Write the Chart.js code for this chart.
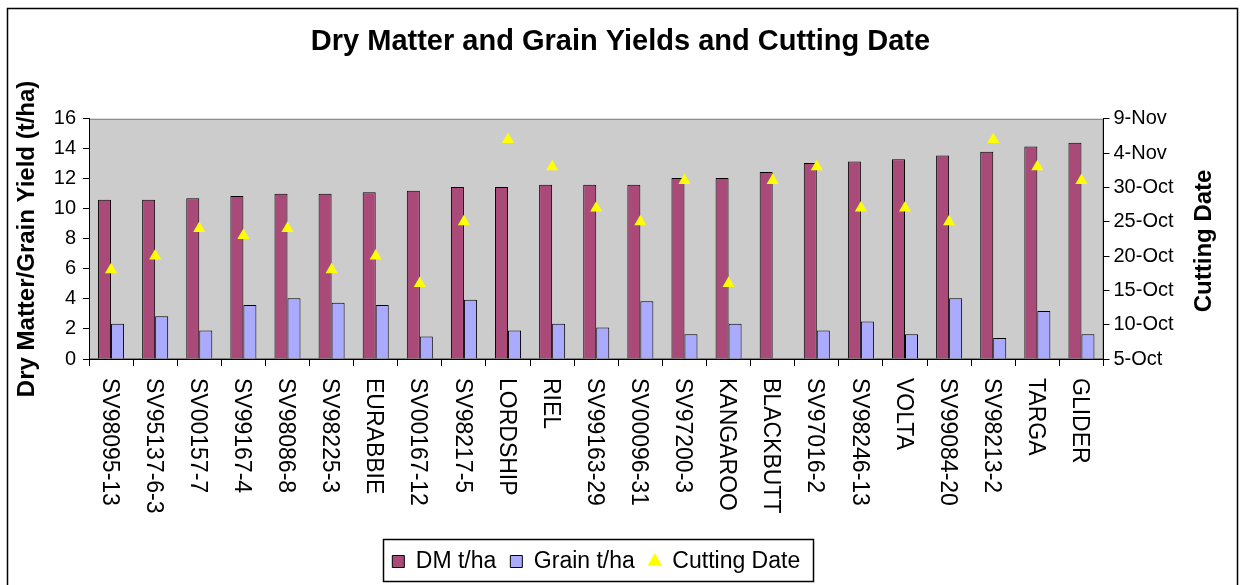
<!DOCTYPE html>
<html>
<head>
<meta charset="utf-8">
<script src="https://cdn.jsdelivr.net/npm/chart.js@4.4.1/dist/chart.umd.min.js"></script>
<style>
  html, body { margin: 0; padding: 0; background: #fff; }
  #wrap { width: 1241px; height: 585px; }
</style>
</head>
<body>
<div id="wrap"><canvas id="chart" width="1241" height="585"></canvas></div>
<script>
const FONT = '"Liberation Sans", Arial, sans-serif';

const chartTitle = 'Dry Matter and Grain Yields and Cutting Date';
const leftAxisTitle = 'Dry Matter/Grain Yield (t/ha)';
const rightAxisTitle = 'Cutting Date';

const varieties = ['SV98095-13', 'SV95137-6-3', 'SV00157-7', 'SV99167-4', 'SV98086-8', 'SV98225-3',
  'EURABBIE', 'SV00167-12', 'SV98217-5', 'LORDSHIP', 'RIEL', 'SV99163-29', 'SV00096-31', 'SV97200-3',
  'KANGAROO', 'BLACKBUTT', 'SV97016-2', 'SV98246-13', 'VOLTA', 'SV99084-20', 'SV98213-2', 'TARGA', 'GLIDER'];

const dmYield = [10.6, 10.6, 10.7, 10.85, 11.0, 11.0, 11.1, 11.2, 11.45, 11.45, 11.6, 11.6,
  11.6, 12.05, 12.05, 12.45, 13.05, 13.15, 13.3, 13.55, 13.8, 14.15, 14.4];

const grainYield = [2.35, 2.85, 1.9, 3.6, 4.05, 3.75, 3.6, 1.5, 3.95, 1.9, 2.35, 2.1,
  3.85, 1.65, 2.35, null, 1.9, 2.5, 1.65, 4.05, 1.4, 3.2, 1.65];

const cuttingDates = ['18-Oct', '20-Oct', '24-Oct', '23-Oct', '24-Oct', '18-Oct', '20-Oct', '16-Oct',
  '25-Oct', '6-Nov', '2-Nov', '27-Oct', '25-Oct', '31-Oct', '16-Oct', '31-Oct', '2-Nov', '27-Oct',
  '27-Oct', '25-Oct', '6-Nov', '2-Nov', '31-Oct'];

const dmTicks = [0, 2, 4, 6, 8, 10, 12, 14, 16];
const dateTicks = ['5-Oct', '10-Oct', '15-Oct', '20-Oct', '25-Oct', '30-Oct', '4-Nov', '9-Nov'];

// days counted from 5-Oct, so the right axis is a plain linear scale
function daysFromStart(s) {
  const parts = s.split('-');
  const d = parseInt(parts[0], 10);
  return parts[1] === 'Oct' ? d - 5 : d + 26;
}

const LEGEND_PAD = 14;

const decor = {
  id: 'decor',
  beforeDraw(chart) {
    const c = chart.ctx, a = chart.chartArea;
    c.save();
    c.fillStyle = '#fff';
    c.fillRect(0, 0, chart.width, chart.height);
    c.fillStyle = '#CCCCCC';
    c.fillRect(a.left, a.top, a.right - a.left, a.bottom - a.top);
    c.strokeStyle = '#808080';
    c.lineWidth = 1;
    c.strokeRect(a.left + 0.5, a.top + 0.5, a.right - a.left - 1, a.bottom - a.top - 1);
    c.restore();
  },
  afterDraw(chart) {
    const c = chart.ctx, a = chart.chartArea, xs = chart.scales.x;
    c.save();
    c.fillStyle = '#000';

    // category labels, reading top to bottom
    c.font = '23px ' + FONT;
    c.textAlign = 'left';
    c.textBaseline = 'middle';
    varieties.forEach(function(v, i) {
      c.save();
      c.translate(xs.getPixelForTick(i) - 2, a.bottom + 19);
      c.rotate(Math.PI / 2);
      c.fillText(v, 0, 0);
      c.restore();
    });

    // axis titles, both reading bottom to top
    c.font = 'bold 24px ' + FONT;
    c.textAlign = 'center';
    const midY = (a.top + a.bottom) / 2;
    c.save();
    c.translate(27, midY);
    c.rotate(-Math.PI / 2);
    c.fillText(leftAxisTitle, 0, 0);
    c.restore();
    c.save();
    c.translate(1204, midY + 2);
    c.rotate(-Math.PI / 2);
    c.fillText(rightAxisTitle, 0, 0);
    c.restore();

    // legend frame
    const lg = chart.legend;
    if (lg && lg.legendHitBoxes && lg.legendHitBoxes.length) {
      let l = Infinity, r = -Infinity;
      lg.legendHitBoxes.forEach(function(hb) {
        l = Math.min(l, hb.left);
        r = Math.max(r, hb.left + hb.width);
      });
      const cy = lg.top + LEGEND_PAD + 11.5;
      c.strokeStyle = '#000';
      c.lineWidth = 1.5;
      c.strokeRect(Math.round(l - 9) + 0.5, Math.round(cy - 23) + 0.5,
        Math.round(r - l + 22), 42);
    }

    // outer chart border
    c.strokeStyle = '#000';
    c.lineWidth = 1.5;
    c.strokeRect(7.5, 8.5, 1230, 620);
    c.restore();
  }
};

const ctx = document.getElementById('chart').getContext('2d');
new Chart(ctx, {
  data: {
    labels: varieties,
    datasets: [
      {
        type: 'bar',
        label: 'DM t/ha',
        data: dmYield,
        backgroundColor: '#AA4A78',
        borderColor: '#000',
        borderWidth: 1,
        yAxisID: 'y',
        categoryPercentage: 0.59,
        barPercentage: 1,
        order: 1
      },
      {
        type: 'bar',
        label: 'Grain t/ha',
        data: grainYield,
        backgroundColor: '#AAAAFF',
        borderColor: '#000',
        borderWidth: 1,
        yAxisID: 'y',
        categoryPercentage: 0.59,
        barPercentage: 1,
        order: 1
      },
      {
        type: 'line',
        label: 'Cutting Date',
        data: cuttingDates.map(daysFromStart),
        yAxisID: 'y2',
        showLine: false,
        pointStyle: 'triangle',
        pointRadius: 7,
        pointBorderWidth: 0,
        pointBackgroundColor: '#FFFF00',
        pointBorderColor: '#FFFF00',
        backgroundColor: '#FFFF00',
        borderColor: '#FFFF00',
        order: 0
      }
    ]
  },
  options: {
    responsive: false,
    devicePixelRatio: 1,
    animation: false,
    layout: { padding: { left: 0, right: 0, top: 0, bottom: 2 } },
    plugins: {
      title: {
        display: true,
        text: chartTitle,
        color: '#000',
        font: { family: FONT, size: 29, weight: 'bold' },
        padding: { top: 25, bottom: 59 }
      },
      legend: {
        position: 'bottom',
        fullSize: false,
        labels: {
          color: '#000',
          font: { family: FONT, size: 23 },
          usePointStyle: true,
          boxWidth: 12,
          boxHeight: 12,
          padding: LEGEND_PAD,
          generateLabels: function(chart) {
            const items = Chart.defaults.plugins.legend.labels.generateLabels(chart);
            items.sort(function(a, b) { return a.datasetIndex - b.datasetIndex; });
            items.forEach(function(it) {
              if (it.datasetIndex === 2) {
                it.pointStyle = 'triangle';
                it.lineWidth = 0;
              } else {
                it.pointStyle = 'rect';
                it.strokeStyle = '#000';
                it.lineWidth = 1;
              }
            });
            return items;
          }
        }
      },
      tooltip: { enabled: false }
    },
    scales: {
      x: {
        offset: true,
        grid: { drawOnChartArea: false, drawTicks: true, tickLength: 7, color: '#000', offset: true },
        border: { display: true, color: '#000', width: 1 },
        ticks: {
          autoSkip: false,
          minRotation: 90,
          maxRotation: 90,
          color: 'rgba(0,0,0,0)',
          font: { family: FONT, size: 23 }
        },
        afterFit: function(s) { s.height = 177; }
      },
      y: {
        position: 'left',
        min: dmTicks[0],
        max: dmTicks[dmTicks.length - 1],
        grid: { drawOnChartArea: false, tickLength: 6, color: '#000' },
        border: { color: '#000' },
        ticks: {
          stepSize: 2,
          color: '#000',
          padding: 7,
          font: { family: FONT, size: 20 }
        },
        afterFit: function(s) { s.width = 89; }
      },
      y2: {
        position: 'right',
        min: 0,
        max: 35,
        grid: { drawOnChartArea: false, tickLength: 6, color: '#000' },
        border: { color: '#000' },
        ticks: {
          stepSize: 5,
          color: '#000',
          padding: 4,
          font: { family: FONT, size: 20 },
          callback: function(v, i) { return dateTicks[i]; }
        },
        afterFit: function(s) { s.width = 137.5; }
      }
    }
  },
  plugins: [decor]
});
</script>
</body>
</html>
